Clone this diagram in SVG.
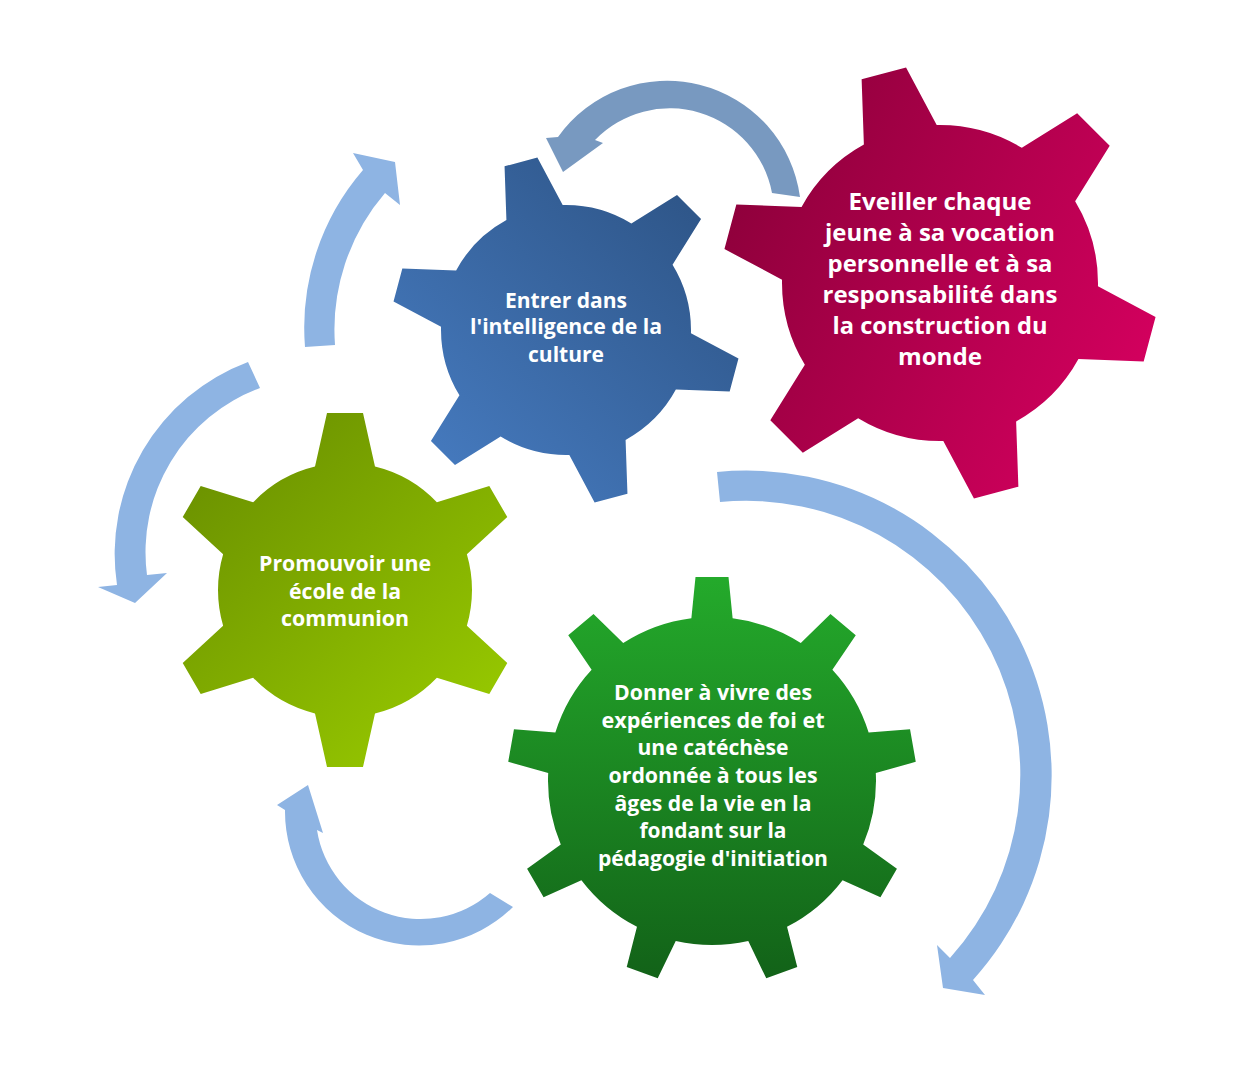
<svg xmlns="http://www.w3.org/2000/svg" xmlns:xlink="http://www.w3.org/1999/xlink" width="1236" height="1066" viewBox="0 0 1236 1066">
<style>
.lbl{font-family:"Open Sans","Liberation Sans",sans-serif;font-weight:700;fill:#ffffff;text-anchor:middle;font-size:22px;}
.lbl-sm{font-size:20.5px;}
.lbl-big{font-size:23.5px;}
.arrow{fill:#8eb4e3;}
.arrow-dark{fill:#7899c0;}
</style>
<defs>
  <linearGradient id="gBlue" gradientUnits="userSpaceOnUse" x1="430" y1="480" x2="720" y2="170">
    <stop offset="0" stop-color="#467bc0"/>
    <stop offset="1" stop-color="#2c5283"/>
  </linearGradient>
  <linearGradient id="gPink" gradientUnits="userSpaceOnUse" x1="730" y1="190" x2="1150" y2="390">
    <stop offset="0" stop-color="#8e003b"/>
    <stop offset="1" stop-color="#d5005f"/>
  </linearGradient>
  <linearGradient id="gLime" gradientUnits="userSpaceOnUse" x1="190" y1="420" x2="505" y2="765">
    <stop offset="0" stop-color="#678c00"/>
    <stop offset="1" stop-color="#9ccf00"/>
  </linearGradient>
  <linearGradient id="gGreen" gradientUnits="userSpaceOnUse" x1="0" y1="577" x2="0" y2="985">
    <stop offset="0" stop-color="#24aa2b"/>
    <stop offset="1" stop-color="#126118"/>
  </linearGradient>

  <polygon id="tBlue" points="110,-31.8 174,-17 174,17 110,31.8"/>
  <polygon id="tPink" points="140,-40.8 217,-23 217,23 140,40.8"/>
  <polygon id="tLime" points="110,-33 177,-18 177,18 110,33"/>
  <polygon id="tGreen" points="150,-21.9 204,-16.5 204,16.5 150,21.9"/>

  <clipPath id="cBlue">
    <circle cx="566" cy="330" r="125"/>
    <use xlink:href="#tBlue" transform="translate(566 330) rotate(-105)"/>
    <use xlink:href="#tBlue" transform="translate(566 330) rotate(-45)"/>
    <use xlink:href="#tBlue" transform="translate(566 330) rotate(15)"/>
    <use xlink:href="#tBlue" transform="translate(566 330) rotate(75)"/>
    <use xlink:href="#tBlue" transform="translate(566 330) rotate(135)"/>
    <use xlink:href="#tBlue" transform="translate(566 330) rotate(195)"/>
  </clipPath>
  <clipPath id="cPink">
    <circle cx="940" cy="283" r="158"/>
    <use xlink:href="#tPink" transform="translate(940 283) rotate(-105)"/>
    <use xlink:href="#tPink" transform="translate(940 283) rotate(-45)"/>
    <use xlink:href="#tPink" transform="translate(940 283) rotate(15)"/>
    <use xlink:href="#tPink" transform="translate(940 283) rotate(75)"/>
    <use xlink:href="#tPink" transform="translate(940 283) rotate(135)"/>
    <use xlink:href="#tPink" transform="translate(940 283) rotate(195)"/>
  </clipPath>
  <clipPath id="cLime">
    <circle cx="345" cy="590" r="127"/>
    <use xlink:href="#tLime" transform="translate(345 590) rotate(-90)"/>
    <use xlink:href="#tLime" transform="translate(345 590) rotate(-30)"/>
    <use xlink:href="#tLime" transform="translate(345 590) rotate(30)"/>
    <use xlink:href="#tLime" transform="translate(345 590) rotate(90)"/>
    <use xlink:href="#tLime" transform="translate(345 590) rotate(150)"/>
    <use xlink:href="#tLime" transform="translate(345 590) rotate(210)"/>
  </clipPath>
  <clipPath id="cGreen">
    <circle cx="712" cy="781" r="164"/>
    <use xlink:href="#tGreen" transform="translate(712 781) rotate(-90)"/>
    <use xlink:href="#tGreen" transform="translate(712 781) rotate(-50)"/>
    <use xlink:href="#tGreen" transform="translate(712 781) rotate(-10)"/>
    <use xlink:href="#tGreen" transform="translate(712 781) rotate(30)"/>
    <use xlink:href="#tGreen" transform="translate(712 781) rotate(70)"/>
    <use xlink:href="#tGreen" transform="translate(712 781) rotate(110)"/>
    <use xlink:href="#tGreen" transform="translate(712 781) rotate(150)"/>
    <use xlink:href="#tGreen" transform="translate(712 781) rotate(190)"/>
    <use xlink:href="#tGreen" transform="translate(712 781) rotate(230)"/>
  </clipPath>
</defs>

<g id="connectors">
  <path id="arrow-top" class="arrow-dark" d="M 800,197 A 134 134 0 0 0 558,137 L 546,138 L 563,172 L 603,143 L 595,140 A 104 104 0 0 1 772,193 Z"/>
  <path id="arrow-upper-left" class="arrow" d="M 305,347 A 241 241 0 0 1 363,170 L 353,153 L 395,162 L 400,205 L 385,193 A 210 210 0 0 0 335,345 Z"/>
  <path id="arrow-left" class="arrow" d="M 248,362 A 205 205 0 0 0 117,585 L 98,587 L 135,603 L 167,573 L 147,575 A 175 175 0 0 1 260,388 Z"/>
  <path id="arrow-bottom-left" class="arrow" d="M 513,907 A 134 134 0 0 1 285,810 L 277,805 L 308,785 L 323,833 L 317,830 A 105 105 0 0 0 490,893 Z"/>
  <path id="arrow-right" class="arrow" d="M 717,472 A 305 305 0 0 1 973,980 L 985,995 L 943,988 L 937,945 L 950,958 A 274 274 0 0 0 720,502 Z"/>
</g>

<g id="gear-culture">
  <rect x="380" y="145" width="372" height="370" fill="url(#gBlue)" clip-path="url(#cBlue)"/>
  <text class="lbl lbl-sm" x="566" y="308" textLength="122" lengthAdjust="spacingAndGlyphs">Entrer dans</text>
  <text class="lbl lbl-sm" x="566" y="334" textLength="192" lengthAdjust="spacingAndGlyphs">l'intelligence de la</text>
  <text class="lbl lbl-sm" x="566" y="362" textLength="76" lengthAdjust="spacingAndGlyphs">culture</text>
</g>

<g id="gear-vocation">
  <rect x="710" y="55" width="460" height="455" fill="url(#gPink)" clip-path="url(#cPink)"/>
  <text class="lbl lbl-big" x="940" y="209.5" textLength="183" lengthAdjust="spacingAndGlyphs">Eveiller chaque</text>
  <text class="lbl lbl-big" x="940" y="240.5" textLength="230" lengthAdjust="spacingAndGlyphs">jeune à sa vocation</text>
  <text class="lbl lbl-big" x="940" y="271.5" textLength="225" lengthAdjust="spacingAndGlyphs">personnelle et à sa</text>
  <text class="lbl lbl-big" x="940" y="302.5" textLength="235" lengthAdjust="spacingAndGlyphs">responsabilité dans</text>
  <text class="lbl lbl-big" x="940" y="333.5" textLength="215" lengthAdjust="spacingAndGlyphs">la construction du</text>
  <text class="lbl lbl-big" x="940" y="364.5" textLength="84" lengthAdjust="spacingAndGlyphs">monde</text>
</g>

<g id="gear-communion">
  <rect x="160" y="405" width="370" height="370" fill="url(#gLime)" clip-path="url(#cLime)"/>
  <text class="lbl" x="345" y="571" textLength="172" lengthAdjust="spacingAndGlyphs">Promouvoir une</text>
  <text class="lbl" x="345" y="598.5" textLength="112" lengthAdjust="spacingAndGlyphs">école de la</text>
  <text class="lbl" x="345" y="626" textLength="128" lengthAdjust="spacingAndGlyphs">communion</text>
</g>

<g id="gear-foi">
  <rect x="500" y="570" width="425" height="420" fill="url(#gGreen)" clip-path="url(#cGreen)"/>
  <text class="lbl" x="713" y="700" textLength="198" lengthAdjust="spacingAndGlyphs">Donner à vivre des</text>
  <text class="lbl" x="713" y="727.5" textLength="223" lengthAdjust="spacingAndGlyphs">expériences de foi et</text>
  <text class="lbl" x="713" y="755" textLength="151" lengthAdjust="spacingAndGlyphs">une catéchèse</text>
  <text class="lbl" x="713" y="783" textLength="209" lengthAdjust="spacingAndGlyphs">ordonnée à tous les</text>
  <text class="lbl" x="713" y="810.5" textLength="197" lengthAdjust="spacingAndGlyphs">âges de la vie en la</text>
  <text class="lbl" x="713" y="838" textLength="147" lengthAdjust="spacingAndGlyphs">fondant sur la</text>
  <text class="lbl" x="713" y="866" textLength="230" lengthAdjust="spacingAndGlyphs">pédagogie d'initiation</text>
</g>
</svg>
